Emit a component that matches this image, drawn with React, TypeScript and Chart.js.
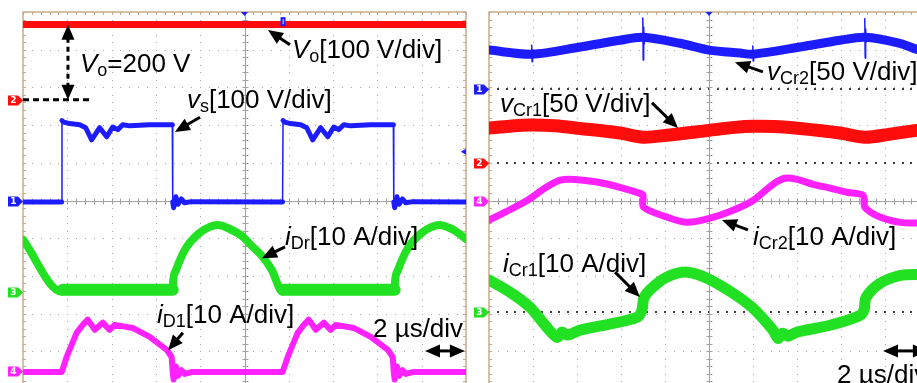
import React, { useEffect, useRef } from 'react';
import { Chart, registerables } from 'chart.js';

Chart.register(...registerables);

type P = [number, number];

// Time axis in µs (2 µs/div, 10 div), vertical axis in screen divisions (-5..5)
const TIME_RANGE: P = [0, 20];
const DIV_RANGE: P = [-5, 5];

// ---------- Left capture ----------
const voLeft: P[] = [[0, 4.67], [6.85, 4.67], [16.87, 4.67], [20, 4.67]];

const vsLeft: P[] = [
  [0, -0.04], [1.74, -0.04], [1.76, 2.12], [1.84, 2.08], [2.11, 2.04], [2.56, 2.01], [2.83, 1.93],
  [3.1, 1.61], [3.46, 1.93], [3.78, 1.69], [4.05, 1.95], [4.28, 1.88], [4.5, 2.01], [4.82, 1.98],
  [5.72, 2.01], [6.74, 2.01], [6.76, -0.04], [6.8, -0.19], [6.9, 0.1], [7.0, -0.1], [7.15, 0.04],
  [7.3, -0.06], [7.6, -0.03], [11.72, -0.04], [11.74, 2.12], [11.81, 2.08], [12.08, 2.04], [12.54, 2.01],
  [12.81, 1.93], [13.08, 1.61], [13.44, 1.93], [13.76, 1.69], [14.03, 1.95], [14.25, 1.88], [14.48, 2.01],
  [14.79, 1.98], [15.7, 2.01], [16.72, 2.01], [16.74, -0.04], [16.78, -0.19], [16.88, 0.1], [16.98, -0.1],
  [17.13, 0.04], [17.28, -0.06], [17.6, -0.03], [20, -0.04],
];

const iDrLeft: P[] = [
  [0, -1.04], [1.75, -2.42], [1.8, -2.37], [6.76, -2.37], [6.78, -2.12], [6.9, -1.86], [7.07, -1.6],
  [7.39, -1.23], [7.97, -0.86], [8.43, -0.7], [8.79, -0.65], [9.24, -0.73], [9.92, -0.96], [10.32, -1.2],
  [10.77, -1.46], [11.23, -1.84], [11.72, -2.42], [11.77, -2.37], [16.78, -2.37], [16.8, -2.12],
  [16.92, -1.86], [17.09, -1.6], [17.41, -1.23], [18.0, -0.86], [18.45, -0.7], [18.81, -0.65],
  [19.26, -0.73], [19.49, -0.8], [20, -1.02],
];

const iD1Left: P[] = [
  [0, -4.55], [1.75, -4.55], [1.97, -4.15], [2.42, -3.51], [2.7, -3.3], [2.92, -3.16], [3.24, -3.43],
  [3.6, -3.24], [3.91, -3.43], [4.14, -3.3], [4.95, -3.38], [5.72, -3.62], [6.49, -3.96], [6.71, -4.15],
  [6.76, -4.55], [6.8, -4.75], [6.9, -4.4], [7.0, -4.65], [7.15, -4.5], [7.3, -4.6], [7.6, -4.55],
  [11.72, -4.55], [11.95, -4.15], [12.4, -3.51], [12.68, -3.3], [12.9, -3.16], [13.22, -3.43], [13.58, -3.24],
  [13.89, -3.43], [14.12, -3.3], [14.93, -3.38], [15.7, -3.62], [16.47, -3.96], [16.69, -4.15], [16.74, -4.55],
  [16.78, -4.75], [16.88, -4.4], [16.98, -4.65], [17.13, -4.5], [17.28, -4.6], [17.6, -4.55], [20, -4.55],
];

// ---------- Right capture ----------
const vCr2Right: P[] = [
  [0, 3.99], [1.95, 3.88], [4.14, 4.07], [5.95, 4.25], [7.0, 4.33], [8.68, 4.17], [10.0, 3.99],
  [11.41, 3.91], [12.0, 3.88], [14.14, 4.07], [15.95, 4.25], [17.09, 4.33], [18.68, 4.17], [19.45, 4.01], [20, 3.96],
];
const vCr2Spikes: P[][] = [
  [[1.94, 4.12], [1.96, 3.68], [1.98, 4.0]],
  [[6.99, 4.84], [7.01, 3.73], [7.03, 4.6], [7.06, 4.15]],
  [[11.99, 4.1], [12.01, 3.7], [12.03, 3.98]],
  [[17.08, 4.82], [17.1, 3.78], [17.12, 4.55], [17.15, 4.2]],
];

const vCr1Right: P[] = [
  [0, 1.92], [0.95, 1.97], [1.86, 2.0], [3.0, 1.98], [4.14, 1.91], [5.95, 1.79], [7.0, 1.68], [8.09, 1.73],
  [10.0, 1.86], [11.18, 1.94], [12.0, 1.97], [13.0, 1.96], [14.14, 1.91], [15.95, 1.79], [17.09, 1.68],
  [18.23, 1.76], [19.45, 1.86], [20, 1.89],
];

const iCr2Right: P[] = [
  [0, -0.52], [0.73, -0.31], [1.73, 0], [2.55, 0.33], [3.23, 0.54], [3.91, 0.56], [4.91, 0.49], [5.95, 0.35],
  [6.86, 0.19], [7.0, 0.14], [7.03, -0.18], [8.09, -0.44], [9.0, -0.58], [10.05, -0.47], [11.09, -0.26],
  [12.0, 0], [12.91, 0.43], [13.45, 0.59], [14.0, 0.56], [14.73, 0.43], [15.5, 0.33], [16.27, 0.22],
  [17.0, 0.14], [17.09, -0.18], [17.77, -0.44], [18.68, -0.58], [19.45, -0.6], [20, -0.58],
];

const iCr1Right: P[] = [
  [0, -2.11], [0.95, -2.43], [1.86, -2.83], [2.55, -3.31], [3.09, -3.63], [3.32, -3.49], [3.55, -3.57],
  [4.14, -3.44], [5.64, -3.26], [6.73, -3.1], [6.95, -2.91], [7.05, -2.57], [7.45, -2.3], [8.09, -2.03],
  [9.0, -1.9], [9.91, -2.06], [11.09, -2.46], [12.0, -2.86], [12.91, -3.44], [13.14, -3.66], [13.36, -3.52],
  [13.59, -3.6], [14.0, -3.49], [15.5, -3.31], [16.86, -3.05], [17.05, -2.89], [17.14, -2.57], [17.77, -2.2],
  [18.68, -1.99], [19.45, -1.96], [20, -1.99],
];

const RED = '#ff0d0d';
const BLUE = '#1c1cff';
const GREEN = '#22e022';
const MAGENTA = '#ff22ff';

type Part = { t: string; it?: boolean; sub?: boolean };
type Label = { x: number; y: number; parts: Part[] };
type Arrow = { x1: number; y1: number; x2: number; y2: number; both?: boolean; dash?: number[]; noHead?: boolean };

const leftLabels: Label[] = [
  { x: 12.14, y: 3.78, parts: [{ t: 'V', it: true }, { t: 'o', sub: true }, { t: '[100 V/div]' }] },
  { x: 2.57, y: 3.41, parts: [{ t: 'V', it: true }, { t: 'o', sub: true }, { t: '=200 V' }] },
  { x: 7.4, y: 2.45, parts: [{ t: 'v', it: true }, { t: 's', sub: true }, { t: '[100 V/div]' }] },
  { x: 11.83, y: -1.18, parts: [{ t: 'i', it: true }, { t: 'Dr', sub: true }, { t: '[10 A/div]' }] },
  { x: 6.05, y: -3.25, parts: [{ t: 'i', it: true }, { t: 'D1', sub: true }, { t: '[10 A/div]' }] },
  { x: 15.8, y: -3.62, parts: [{ t: '2 µs/div' }] },
];
const leftArrows: Arrow[] = [
  { x1: 12.05, y1: 4.13, x2: 11.06, y2: 4.52 },
  { x1: 7.99, y1: 2.21, x2: 6.86, y2: 1.82 },
  { x1: 11.83, y1: -1.23, x2: 10.79, y2: -1.53 },
  { x1: 7.22, y1: -3.51, x2: 6.55, y2: -3.97 },
  { x1: 18.15, y1: -3.99, x2: 19.95, y2: -3.99, both: true },
  { x1: 2.03, y1: 2.67, x2: 2.03, y2: 4.66, both: true, dash: [5, 4] },
  { x1: 0, y1: 2.67, x2: 3.02, y2: 2.67, dash: [6, 4], noHead: true },
];
const rightLabels: Label[] = [
  { x: 12.64, y: 3.2, parts: [{ t: 'v', it: true }, { t: 'Cr2', sub: true }, { t: '[50 V/div]' }] },
  { x: 0.5, y: 2.35, parts: [{ t: 'v', it: true }, { t: 'Cr1', sub: true }, { t: '[50 V/div]' }] },
  { x: 12.0, y: -1.18, parts: [{ t: 'i', it: true }, { t: 'Cr2', sub: true }, { t: '[10 A/div]' }] },
  { x: 0.64, y: -1.9, parts: [{ t: 'i', it: true }, { t: 'Cr1', sub: true }, { t: '[10 A/div]' }] },
  { x: 15.82, y: -4.84, parts: [{ t: '2 µs/div' }] },
];
const rightArrows: Arrow[] = [
  { x1: 12.45, y1: 3.41, x2: 11.18, y2: 3.67 },
  { x1: 7.41, y1: 2.59, x2: 8.59, y2: 1.92 },
  { x1: 11.77, y1: -0.78, x2: 10.59, y2: -0.52 },
  { x1: 5.73, y1: -1.9, x2: 6.86, y2: -2.56 },
  { x1: 17.91, y1: -3.99, x2: 19.95, y2: -3.99, both: true },
];

type Tag = { label: string; color: string; y: number };
const leftTags: Tag[] = [
  { label: '2', color: RED, y: 2.67 },
  { label: '1', color: BLUE, y: 0 },
  { label: '3', color: GREEN, y: -2.42 },
  { label: '4', color: MAGENTA, y: -4.52 },
];
const rightTags: Tag[] = [
  { label: '1', color: BLUE, y: 2.97 },
  { label: '2', color: RED, y: 1.0 },
  { label: '4', color: MAGENTA, y: 0 },
  { label: '3', color: GREEN, y: -2.97 },
];
const rightRefLevels = [2.97, 1.0, -2.97];

type Mark = { kind: 'down' | 'left' | 'pill'; x: number; y: number };
const leftMarks: Mark[] = [
  { kind: 'down', x: 10, y: 5 },
  { kind: 'pill', x: 11.74, y: 4.73 },
  { kind: 'left', x: 19.77, y: 1.29 },
];
const rightMarks: Mark[] = [{ kind: 'down', x: 10, y: 5 }];

const FONT = '"Liberation Sans", Arial, Helvetica, sans-serif';

function drawRich(ctx: CanvasRenderingContext2D, x: number, y: number, parts: Part[]) {
  let cx = x;
  ctx.fillStyle = '#000';
  ctx.textBaseline = 'alphabetic';
  ctx.textAlign = 'left';
  for (const p of parts) {
    const fs = p.sub ? 18 : 26;
    ctx.font = `${p.it ? 'italic ' : ''}${fs}px ${FONT}`;
    ctx.fillText(p.t, cx, p.sub ? y + 4 : y);
    cx += ctx.measureText(p.t).width;
  }
}

function drawHead(ctx: CanvasRenderingContext2D, tx: number, ty: number, c: number, s: number) {
  const hl = 15, hw = 13;
  const bx = tx - c * hl, by = ty - s * hl;
  ctx.beginPath();
  ctx.moveTo(tx, ty);
  ctx.lineTo(bx - (s * hw) / 2, by + (c * hw) / 2);
  ctx.lineTo(bx + (s * hw) / 2, by - (c * hw) / 2);
  ctx.closePath();
  ctx.fill();
}

function drawArrow(ctx: CanvasRenderingContext2D, x1: number, y1: number, x2: number, y2: number, a: Arrow) {
  const ang = Math.atan2(y2 - y1, x2 - x1);
  const c = Math.cos(ang), s = Math.sin(ang);
  const cut = a.noHead ? 0 : 12;
  const sx = a.both ? x1 + c * cut : x1, sy = a.both ? y1 + s * cut : y1;
  const ex = x2 - c * cut, ey = y2 - s * cut;
  ctx.save();
  ctx.strokeStyle = '#000';
  ctx.fillStyle = '#000';
  ctx.lineWidth = 3;
  ctx.setLineDash(a.dash || []);
  ctx.beginPath();
  ctx.moveTo(sx, sy);
  ctx.lineTo(ex, ey);
  ctx.stroke();
  ctx.setLineDash([]);
  if (!a.noHead) {
    drawHead(ctx, x2, y2, c, s);
    if (a.both) drawHead(ctx, x1, y1, -c, -s);
  }
  ctx.restore();
}

const scopePlugin = {
  id: 'scope',
  beforeDatasetsDraw(chart: any, _args: any, opts: any) {
    const { ctx, chartArea: a } = chart;
    const X = (v: number) => chart.scales.x.getPixelForValue(v);
    const Y = (v: number) => chart.scales.y.getPixelForValue(v);
    const [x0, x1] = TIME_RANGE;
    const [y0, y1] = DIV_RANGE;
    const xd = (x1 - x0) / 10, yd = (y1 - y0) / 10;
    ctx.save();
    ctx.fillStyle = '#a8a8a8';
    for (let i = 1; i < 10; i++) {
      if (i === 5) continue;
      const gx = Math.round(X(x0 + i * xd));
      for (let j = 0; j <= 50; j++) ctx.fillRect(gx, Math.round(Y(y0 + (j * yd) / 5)), 1, 1);
      const gy = Math.round(Y(y0 + i * yd));
      for (let j = 0; j <= 50; j++) ctx.fillRect(Math.round(X(x0 + (j * xd) / 5)), gy, 1, 1);
    }
    ctx.fillStyle = '#404040';
    for (const r of opts.refLevels || []) {
      const gy = Math.round(Y(r));
      for (let j = 0; j <= 50; j++) ctx.fillRect(Math.round(X(x0 + (j * xd) / 5)) - 1, gy - 1, 2, 2);
    }
    const cx = Math.round(X((x0 + x1) / 2)) + 0.5;
    const cy = Math.round(Y((y0 + y1) / 2)) + 0.5;
    ctx.strokeStyle = '#a0a0a0';
    ctx.lineWidth = 1;
    ctx.beginPath();
    ctx.moveTo(a.left, cy); ctx.lineTo(a.right, cy);
    ctx.moveTo(cx, a.top); ctx.lineTo(cx, a.bottom);
    for (let j = 0; j <= 50; j++) {
      const tx = Math.round(X(x0 + (j * xd) / 5)) + 0.5;
      ctx.moveTo(tx, cy - 3); ctx.lineTo(tx, cy + 3);
      const ty = Math.round(Y(y0 + (j * yd) / 5)) + 0.5;
      ctx.moveTo(cx - 3, ty); ctx.lineTo(cx + 3, ty);
    }
    ctx.stroke();
    ctx.strokeStyle = '#c8aa8a';
    ctx.lineWidth = 1.5;
    ctx.strokeRect(a.left, a.top, a.right - a.left, a.bottom - a.top);
    ctx.lineWidth = 1;
    ctx.beginPath();
    for (let j = 0; j <= 50; j++) {
      const tx = Math.round(X(x0 + (j * xd) / 5)) + 0.5;
      ctx.moveTo(tx, a.top); ctx.lineTo(tx, a.top + 3);
      ctx.moveTo(tx, a.bottom); ctx.lineTo(tx, a.bottom - 3);
      const ty = Math.round(Y(y0 + (j * yd) / 5)) + 0.5;
      ctx.moveTo(a.left, ty); ctx.lineTo(a.left + 3, ty);
      ctx.moveTo(a.right, ty); ctx.lineTo(a.right - 3, ty);
    }
    ctx.stroke();
    ctx.restore();
  },
  afterDatasetsDraw(chart: any, _args: any, opts: any) {
    const { ctx, chartArea: a } = chart;
    const X = (v: number) => chart.scales.x.getPixelForValue(v);
    const Y = (v: number) => chart.scales.y.getPixelForValue(v);
    ctx.save();
    for (const m of (opts.marks || []) as Mark[]) {
      const mx = X(m.x), my = Y(m.y);
      ctx.fillStyle = BLUE;
      ctx.beginPath();
      if (m.kind === 'down') {
        ctx.moveTo(mx - 3.5, a.top); ctx.lineTo(mx + 3.5, a.top); ctx.lineTo(mx, a.top + 4);
        ctx.closePath(); ctx.fill();
      } else if (m.kind === 'left') {
        ctx.moveTo(mx, my); ctx.lineTo(mx + 5, my - 3); ctx.lineTo(mx + 5, my + 3);
        ctx.closePath(); ctx.fill();
      } else {
        ctx.fillRect(mx - 2.5, my - 5, 5, 9);
        ctx.fillStyle = '#9ab0ff';
        ctx.fillRect(mx - 0.5, my - 3, 1.5, 5);
      }
    }
    for (const t of (opts.tags || []) as Tag[]) {
      const tip = a.left, ty = Math.round(Y(t.y)) + 0.5;
      ctx.fillStyle = t.color;
      ctx.beginPath();
      ctx.moveTo(tip - 15, ty - 5);
      ctx.lineTo(tip - 5, ty - 5);
      ctx.lineTo(tip, ty);
      ctx.lineTo(tip - 5, ty + 5);
      ctx.lineTo(tip - 15, ty + 5);
      ctx.closePath();
      ctx.fill();
      ctx.fillStyle = '#fff';
      ctx.font = `bold 9px "DejaVu Sans", sans-serif`;
      ctx.textAlign = 'center';
      ctx.textBaseline = 'middle';
      ctx.fillText(t.label, tip - 9.5, ty + 0.5);
    }
    for (const ar of (opts.arrows || []) as Arrow[]) {
      drawArrow(ctx, X(ar.x1), Y(ar.y1), X(ar.x2), Y(ar.y2), ar);
    }
    for (const l of (opts.labels || []) as Label[]) {
      drawRich(ctx, X(l.x), Y(l.y), l.parts);
    }
    ctx.restore();
  },
};

type Trace = { pts: P[]; color: string; width: number; smooth?: 'mono' | number; seg?: (c: any) => number };

const thinEdges = (thick: number) => (c: any) => {
  const dx = Math.abs(c.p1.x - c.p0.x), dy = Math.abs(c.p1.y - c.p0.y);
  return dy > 3 * dx && dy > 15 ? 1.5 : thick;
};
const wideFlats = (flat: number, slope: number) => (c: any) => {
  const dx = Math.abs(c.p1.x - c.p0.x), dy = Math.abs(c.p1.y - c.p0.y);
  return dy < 0.12 * dx ? flat : slope;
};

function makeChart(canvas: HTMLCanvasElement, padding: any, traces: Trace[], plugOpts: any) {
  return new Chart(canvas, {
    type: 'line',
    data: {
      datasets: traces.map((tr) => ({
        data: tr.pts.map(([x, y]) => ({ x, y })),
        borderColor: tr.color,
        borderWidth: tr.width,
        pointRadius: 0,
        fill: false,
        tension: typeof tr.smooth === 'number' ? tr.smooth : 0,
        cubicInterpolationMode: tr.smooth === 'mono' ? 'monotone' : 'default',
        borderJoinStyle: 'round',
        borderCapStyle: 'round',
        segment: tr.seg ? { borderWidth: tr.seg } : undefined,
      })) as any,
    },
    options: {
      animation: false,
      responsive: false,
      maintainAspectRatio: false,
      events: [],
      layout: { padding },
      scales: {
        x: { type: 'linear', min: TIME_RANGE[0], max: TIME_RANGE[1], display: false },
        y: { type: 'linear', min: DIV_RANGE[0], max: DIV_RANGE[1], display: false },
      },
      plugins: {
        legend: { display: false },
        tooltip: { enabled: false },
        scope: plugOpts,
      } as any,
    },
    plugins: [scopePlugin as any],
  });
}

export default function App() {
  const leftRef = useRef<HTMLCanvasElement>(null);
  const rightRef = useRef<HTMLCanvasElement>(null);

  useEffect(() => {
    const left = makeChart(
      leftRef.current!,
      { left: 23, right: 4, top: 12, bottom: 11 },
      [
        { pts: voLeft, color: RED, width: 7 },
        { pts: vsLeft, color: BLUE, width: 5, seg: thinEdges(5) },
        { pts: iDrLeft, color: GREEN, width: 8, smooth: 'mono', seg: wideFlats(12, 8) },
        { pts: iD1Left, color: MAGENTA, width: 6 },
      ],
      { labels: leftLabels, arrows: leftArrows, tags: leftTags, marks: leftMarks, refLevels: [] }
    );
    const right = makeChart(
      rightRef.current!,
      { left: 23, right: 11, top: 12, bottom: 11 },
      [
        { pts: vCr2Right, color: BLUE, width: 9, smooth: 0.3 },
        ...vCr2Spikes.map((s) => ({ pts: s, color: BLUE, width: 1.5 })),
        { pts: vCr1Right, color: RED, width: 13, smooth: 0.3 },
        { pts: iCr2Right, color: MAGENTA, width: 7, smooth: 0.3 },
        { pts: iCr1Right, color: GREEN, width: 11, smooth: 0.3 },
      ],
      { labels: rightLabels, arrows: rightArrows, tags: rightTags, marks: rightMarks, refLevels: rightRefLevels }
    );
    return () => {
      left.destroy();
      right.destroy();
    };
  }, []);

  return (
    <div style={{ position: 'absolute', left: 0, top: 0, width: 917, height: 383, overflow: 'hidden', background: '#fff' }}>
      <canvas ref={leftRef} width={470} height={400} style={{ position: 'absolute', left: 0, top: 0, width: 470, height: 400 }} />
      <canvas ref={rightRef} width={474} height={400} style={{ position: 'absolute', left: 466, top: 0, width: 474, height: 400 }} />
    </div>
  );
}
